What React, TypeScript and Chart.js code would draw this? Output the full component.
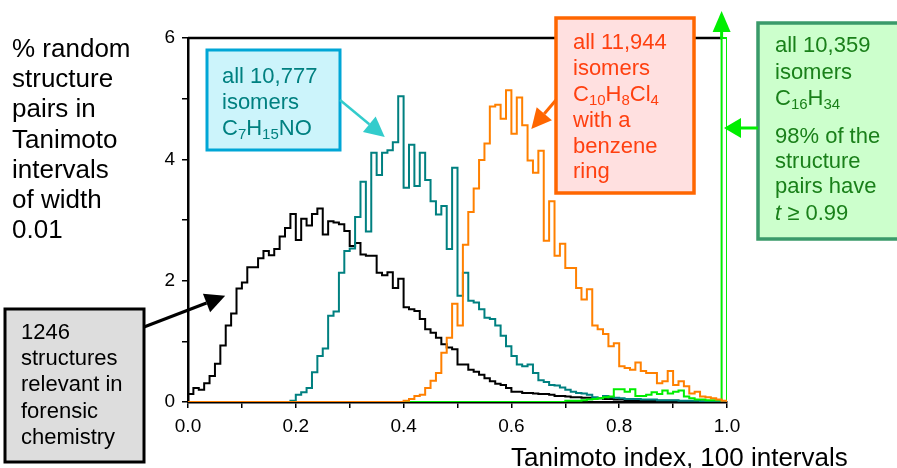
import React, { useEffect, useRef } from 'react';
import { Chart, registerables } from 'chart.js';

Chart.register(...registerables);

const FONT = '"Liberation Sans", Arial, Helvetica, sans-serif';

// Tanimoto bin width (100 intervals between 0 and 1)
const BIN_WIDTH = 0.01;

// % of random structure pairs per Tanimoto interval (bins 0.00-0.01 ... 0.99-1.00)
const forensic1246 = [
  0.13, 0.23, 0.20, 0.31, 0.43, 0.63, 0.93, 1.26, 1.46, 1.87,
  1.97, 2.22, 2.22, 2.37, 2.49, 2.42, 2.52, 2.73, 2.87, 3.10,
  2.67, 3.02, 2.91, 3.10, 3.19, 2.76, 2.98, 2.96, 2.93, 2.82,
  2.57, 2.62, 2.43, 2.41, 2.41, 2.13, 2.09, 2.14, 1.88, 2.03,
  1.56, 1.53, 1.50, 1.37, 1.20, 1.14, 1.06, 0.95, 0.90, 0.87,
  0.62, 0.62, 0.53, 0.50, 0.45, 0.39, 0.34, 0.30, 0.28, 0.23,
  0.17, 0.17, 0.15, 0.15, 0.14, 0.13, 0.13, 0.12, 0.10, 0.10,
  0.09, 0.08, 0.08, 0.07, 0.07, 0.06, 0.06, 0.05, 0.05, 0.04,
  0.04, 0.03, 0.03, 0.03, 0.03, 0.03, 0.02, 0.02, 0.02, 0.02,
  0.02, 0.01, 0.01, 0.01, 0.01, 0.01, 0.00, 0.00, 0.00, 0.00,
];

const isomersC7H15NO = [
  0, 0, 0, 0, 0, 0, 0, 0, 0, 0,
  0, 0, 0, 0, 0, 0, 0, 0, 0, 0.02,
  0.12, 0.16, 0.23, 0.49, 0.76, 0.88, 1.42, 1.49, 2.13, 2.49,
  2.53, 3.05, 3.63, 2.81, 4.11, 3.74, 4.11, 4.15, 4.28, 5.04,
  3.53, 4.24, 3.56, 4.11, 3.66, 3.31, 3.09, 3.23, 2.52, 3.86,
  1.75, 2.13, 1.67, 1.64, 1.53, 1.39, 1.37, 1.26, 1.09, 0.92,
  0.76, 0.62, 0.59, 0.62, 0.48, 0.36, 0.33, 0.28, 0.27, 0.24,
  0.20, 0.17, 0.15, 0.14, 0.12, 0.08, 0.06, 0.10, 0.08, 0.07,
  0.06, 0.05, 0.05, 0.05, 0.04, 0.04, 0.04, 0.03, 0.03, 0.03,
  0.03, 0.02, 0.02, 0.02, 0.02, 0.01, 0.01, 0.01, 0.01, 0.00,
];

const isomersC10H8Cl4 = [
  0, 0, 0, 0, 0, 0, 0, 0, 0, 0,
  0, 0, 0, 0, 0, 0, 0, 0, 0, 0,
  0, 0, 0, 0, 0, 0, 0, 0, 0, 0,
  0, 0, 0, 0, 0, 0, 0, 0, 0, 0,
  0.02, 0.05, 0.10, 0.12, 0.23, 0.35, 0.48, 0.81, 1.06, 1.62,
  1.26, 2.59, 3.13, 3.52, 3.99, 4.26, 4.87, 4.90, 4.67, 5.14,
  4.42, 5.02, 4.56, 3.98, 3.78, 4.14, 2.66, 3.31, 2.41, 2.61,
  2.21, 2.21, 1.88, 1.69, 1.86, 1.26, 1.20, 1.12, 0.92, 0.97,
  0.59, 0.56, 0.53, 0.65, 0.51, 0.48, 0.48, 0.31, 0.34, 0.51,
  0.28, 0.34, 0.26, 0.14, 0.17, 0.09, 0.08, 0.06, 0.04, 0.02,
];

const isomersC16H34 = [
  0, 0, 0, 0, 0, 0, 0, 0, 0, 0,
  0, 0, 0, 0, 0, 0, 0, 0, 0, 0,
  0, 0, 0, 0, 0, 0, 0, 0, 0, 0,
  0, 0, 0, 0, 0, 0, 0, 0, 0, 0,
  0, 0, 0, 0, 0, 0, 0, 0, 0, 0,
  0, 0, 0, 0, 0, 0, 0, 0, 0, 0,
  0, 0, 0, 0, 0, 0, 0, 0, 0, 0,
  0.02, 0.02, 0.02, 0.03, 0.04, 0.05, 0.06, 0.08, 0.09, 0.21,
  0.21, 0.17, 0.21, 0.10, 0.10, 0.12, 0.16, 0.13, 0.19, 0.14,
  0.17, 0.19, 0.09, 0.06, 0.04, 0.04, 0.03, 0.03, 0.03, 98.0,
];

const xTickLabels = ['0.0', '0.2', '0.4', '0.6', '0.8', '1.0'];
const yTickLabels = ['0', '2', '4', '6'];

const yAxisTitle = ['% random', 'structure', 'pairs in', 'Tanimoto', 'intervals', 'of width', '0.01'];
const xAxisTitle = 'Tanimoto index, 100 intervals';

function toSteps(values: number[]) {
  const pts: { x: number; y: number }[] = [{ x: 0, y: 0 }];
  values.forEach((v, i) => pts.push({ x: i * BIN_WIDTH, y: v }));
  pts.push({ x: values.length * BIN_WIDTH, y: 0 });
  return pts;
}

type Part = { t: string; sub?: boolean; italic?: boolean };

function drawRich(ctx: CanvasRenderingContext2D, parts: Part[], x: number, y: number, size: number, color: string) {
  let cx = x;
  ctx.fillStyle = color;
  ctx.textBaseline = 'alphabetic';
  ctx.textAlign = 'left';
  for (const p of parts) {
    const s = p.sub ? Math.round(size * 0.68) : size;
    ctx.font = `${p.italic ? 'italic ' : ''}${s}px ${FONT}`;
    ctx.fillText(p.t, cx, p.sub ? y + size * 0.18 : y);
    cx += ctx.measureText(p.t).width;
  }
}

function drawArrow(
  ctx: CanvasRenderingContext2D,
  x1: number, y1: number, x2: number, y2: number,
  color: string, width: number, headLen: number, headW: number,
) {
  const ang = Math.atan2(y2 - y1, x2 - x1);
  const bx = x2 - headLen * Math.cos(ang);
  const by = y2 - headLen * Math.sin(ang);
  ctx.save();
  ctx.strokeStyle = color;
  ctx.lineWidth = width;
  ctx.beginPath();
  ctx.moveTo(x1, y1);
  ctx.lineTo(bx, by);
  ctx.stroke();
  ctx.fillStyle = color;
  ctx.beginPath();
  ctx.moveTo(x2, y2);
  ctx.lineTo(bx + headW * Math.sin(ang), by - headW * Math.cos(ang));
  ctx.lineTo(bx - headW * Math.sin(ang), by + headW * Math.cos(ang));
  ctx.closePath();
  ctx.fill();
  ctx.restore();
}

function box(ctx: CanvasRenderingContext2D, x: number, y: number, w: number, h: number, fill: string, stroke: string, lw: number) {
  ctx.save();
  ctx.fillStyle = fill;
  ctx.fillRect(x, y, w, h);
  ctx.strokeStyle = stroke;
  ctx.lineWidth = lw;
  ctx.strokeRect(x, y, w, h);
  ctx.restore();
}

const annotationPlugin = {
  id: 'annotations',
  afterDraw(chart: any) {
    const ctx: CanvasRenderingContext2D = chart.ctx;
    const { left, right, top } = chart.chartArea;
    const xs = chart.scales.x;
    const ys = chart.scales.y;
    ctx.save();

    // frame (top / right)
    ctx.strokeStyle = '#000';
    ctx.lineWidth = 2.5;
    ctx.beginPath();
    ctx.moveTo(left, top);
    ctx.lineTo(xs.getPixelForValue(0.99), top);
    ctx.stroke();
    ctx.strokeStyle = '#00ee00';
    ctx.lineWidth = 2;
    ctx.beginPath();
    ctx.moveTo(xs.getPixelForValue(0.99), top);
    ctx.lineTo(right, top);
    ctx.stroke();

    // y-axis title
    ctx.fillStyle = '#000';
    ctx.font = `26px ${FONT}`;
    ctx.textAlign = 'left';
    ctx.textBaseline = 'alphabetic';
    yAxisTitle.forEach((l, i) => ctx.fillText(l, 12, 57 + i * 30.2));

    // x-axis title
    ctx.fillText(xAxisTitle, 511, 466);

    // teal annotation
    box(ctx, 207, 50, 133, 100, '#ccf4fb', '#00a6d6', 3);
    drawRich(ctx, [{ t: 'all 10,777' }], 222, 83, 22, '#008080');
    drawRich(ctx, [{ t: 'isomers' }], 222, 109, 22, '#008080');
    drawRich(ctx, [{ t: 'C' }, { t: '7', sub: true }, { t: 'H' }, { t: '15', sub: true }, { t: 'NO' }], 222, 135, 22, '#008080');
    drawArrow(ctx, 340, 100, xs.getPixelForValue(0.365), ys.getPixelForValue(4.37), '#33cccc', 2.5, 20, 10);

    // orange annotation
    box(ctx, 556, 18, 138, 175, '#ffe0e0', '#ff6600', 3.5);
    const oc = '#ff4010';
    drawRich(ctx, [{ t: 'all 11,944' }], 573, 49, 22, oc);
    drawRich(ctx, [{ t: 'isomers' }], 573, 75, 22, oc);
    drawRich(ctx, [{ t: 'C' }, { t: '10', sub: true }, { t: 'H' }, { t: '8', sub: true }, { t: 'Cl' }, { t: '4', sub: true }], 573, 101, 22, oc);
    drawRich(ctx, [{ t: 'with a' }], 573, 127, 22, oc);
    drawRich(ctx, [{ t: 'benzene' }], 573, 153, 22, oc);
    drawRich(ctx, [{ t: 'ring' }], 573, 178, 22, oc);
    drawArrow(ctx, 556, 100, xs.getPixelForValue(0.637), ys.getPixelForValue(4.5), '#ff6600', 3, 20, 10);

    // green annotation
    box(ctx, 758, 23, 150, 216, '#ccffcc', '#3a9a6a', 3.5);
    const gc = '#1a801a';
    drawRich(ctx, [{ t: 'all 10,359' }], 775, 52, 22, gc);
    drawRich(ctx, [{ t: 'isomers' }], 775, 79, 22, gc);
    drawRich(ctx, [{ t: 'C' }, { t: '16', sub: true }, { t: 'H' }, { t: '34', sub: true }], 775, 105, 22, gc);
    drawRich(ctx, [{ t: '98% of the' }], 775, 143, 22, gc);
    drawRich(ctx, [{ t: 'structure' }], 775, 168, 22, gc);
    drawRich(ctx, [{ t: 'pairs have' }], 775, 193, 22, gc);
    drawRich(ctx, [{ t: 't', italic: true }, { t: ' \u2265 0.99' }], 775, 220, 22, gc);
    drawArrow(ctx, 758, 128, right - 3, 128, '#00ee00', 3, 17, 10);
    const gx = xs.getPixelForValue(0.99);
    drawArrow(ctx, gx, top + 1, gx, 11, '#00ee00', 3, 21, 9);

    // gray annotation
    box(ctx, 5, 309, 139, 153, '#dddddd', '#000000', 3);
    ['1246', 'structures', 'relevant in', 'forensic', 'chemistry'].forEach((l, i) =>
      drawRich(ctx, [{ t: l }], 21, 339 + i * 26.2, 22, '#000'),
    );
    drawArrow(ctx, 144, 327, xs.getPixelForValue(0.069), ys.getPixelForValue(1.75), '#000', 3, 20, 10);

    ctx.restore();
  },
};

export default function App() {
  const ref = useRef<HTMLCanvasElement>(null);

  useEffect(() => {
    if (!ref.current) return;
    const common = { stepped: true, pointRadius: 0, borderWidth: 2, fill: false, tension: 0 };
    const chart = new Chart(ref.current, {
      type: 'line',
      data: {
        datasets: [
          { ...common, label: 'C10H8Cl4', data: toSteps(isomersC10H8Cl4), borderColor: '#ff8000', order: 0 },
          { ...common, label: 'C16H34', data: toSteps(isomersC16H34), borderColor: '#00ee00', order: 1 },
          { ...common, label: 'C7H15NO', data: toSteps(isomersC7H15NO), borderColor: '#008080', order: 2 },
          { ...common, label: 'forensic', data: toSteps(forensic1246), borderColor: '#000000', order: 3 },
        ] as any,
      },
      options: {
        responsive: false,
        maintainAspectRatio: false,
        animation: false,
        events: [],
        layout: { padding: { left: 0, right: 170, top: 38, bottom: 0 } },
        plugins: { legend: { display: false }, tooltip: { enabled: false } },
        scales: {
          x: {
            type: 'linear',
            min: 0,
            max: 1,
            afterFit: (s: any) => { s.height = 66; },
            ticks: {
              stepSize: 0.1,
              autoSkip: false,
              maxRotation: 0,
              padding: 7,
              color: '#000',
              font: { family: FONT, size: 19 },
              callback: (v: any) => {
                const r = Math.round(Number(v) * 10);
                return r % 2 === 0 ? xTickLabels[r / 2] : '';
              },
            },
            grid: { drawOnChartArea: false, drawTicks: true, tickLength: 6, color: '#000', lineWidth: 1.5 },
            border: { display: true, color: '#000', width: 2.5 },
          },
          y: {
            type: 'linear',
            min: 0,
            max: 6,
            afterFit: (s: any) => { s.width = 188; },
            ticks: {
              stepSize: 1,
              padding: 7,
              color: '#000',
              font: { family: FONT, size: 19 },
              callback: (v: any) => {
                const r = Math.round(Number(v));
                return r % 2 === 0 ? yTickLabels[r / 2] : '';
              },
            },
            grid: { drawOnChartArea: false, drawTicks: true, tickLength: 6, color: '#000', lineWidth: 1.5 },
            border: { display: true, color: '#000', width: 2.5 },
          },
        },
      } as any,
      plugins: [annotationPlugin],
    });
    return () => chart.destroy();
  }, []);

  return (
    <div style={{ position: 'absolute', left: 0, top: 0, width: 897, height: 468, background: '#fff' }}>
      <canvas ref={ref} width={897} height={468} style={{ width: 897, height: 468 }} />
    </div>
  );
}
